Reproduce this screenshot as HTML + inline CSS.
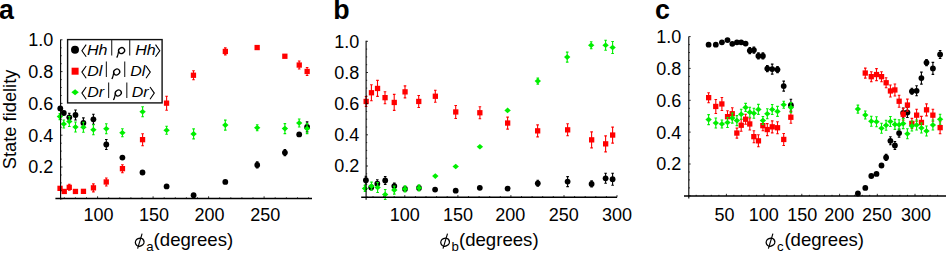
<!DOCTYPE html>
<html><head><meta charset="utf-8"><title>State fidelity</title>
<style>html,body{margin:0;padding:0;background:#fff;overflow:hidden}svg{display:block}</style>
</head><body>
<svg width="946" height="257" viewBox="0 0 946 257">
<rect width="946" height="257" fill="#fff"/>
<text x="-1.1" y="18.9" font-size="26.8" font-weight="bold" font-family="'Liberation Sans', sans-serif">a</text>
<text x="333.2" y="18.9" font-size="26.8" font-weight="bold" font-family="'Liberation Sans', sans-serif">b</text>
<text x="654.9" y="18.9" font-size="26.8" font-weight="bold" font-family="'Liberation Sans', sans-serif">c</text>
<circle cx="60.3" cy="108.4" r="2.9" fill="#000"/>
<circle cx="63.8" cy="113.0" r="2.9" fill="#000"/>
<path d="M69.3 113.3V121.3M68.0 113.3h2.6M68.0 121.3h2.6" stroke="#000" stroke-width="1.1" fill="none"/>
<circle cx="69.3" cy="117.3" r="2.9" fill="#000"/>
<path d="M75.5 110.0V120.0M74.2 110.0h2.6M74.2 120.0h2.6" stroke="#000" stroke-width="1.1" fill="none"/>
<circle cx="75.5" cy="115.0" r="2.9" fill="#000"/>
<path d="M83.4 117.9V127.9M82.1 117.9h2.6M82.1 127.9h2.6" stroke="#000" stroke-width="1.1" fill="none"/>
<circle cx="83.4" cy="122.9" r="2.9" fill="#000"/>
<path d="M93.4 114.3V124.3M92.1 114.3h2.6M92.1 124.3h2.6" stroke="#000" stroke-width="1.1" fill="none"/>
<circle cx="93.4" cy="119.3" r="2.9" fill="#000"/>
<path d="M106.3 139.5V149.5M105.0 139.5h2.6M105.0 149.5h2.6" stroke="#000" stroke-width="1.1" fill="none"/>
<circle cx="106.3" cy="144.5" r="2.9" fill="#000"/>
<circle cx="122.4" cy="157.6" r="2.9" fill="#000"/>
<circle cx="142.5" cy="172.5" r="2.9" fill="#000"/>
<circle cx="166.6" cy="186.4" r="2.9" fill="#000"/>
<circle cx="193.6" cy="195.2" r="2.9" fill="#000"/>
<circle cx="225.3" cy="181.9" r="2.9" fill="#000"/>
<path d="M257.2 161.9V167.9M255.9 161.9h2.6M255.9 167.9h2.6" stroke="#000" stroke-width="1.1" fill="none"/>
<circle cx="257.2" cy="164.9" r="2.9" fill="#000"/>
<path d="M284.9 149.6V155.6M283.6 149.6h2.6M283.6 155.6h2.6" stroke="#000" stroke-width="1.1" fill="none"/>
<circle cx="284.9" cy="152.6" r="2.9" fill="#000"/>
<circle cx="299.2" cy="134.4" r="2.9" fill="#000"/>
<path d="M307.1 121.9V131.9M305.8 121.9h2.6M305.8 131.9h2.6" stroke="#000" stroke-width="1.1" fill="none"/>
<circle cx="307.1" cy="126.9" r="2.9" fill="#000"/>
<rect x="57.4" y="185.7" width="5.3" height="5.3" fill="#f00"/>
<rect x="61.6" y="188.8" width="5.3" height="5.3" fill="#f00"/>
<path d="M69.3 184.3V190.3M68.0 184.3h2.6M68.0 190.3h2.6" stroke="#f00" stroke-width="1.1" fill="none"/>
<rect x="66.6" y="184.7" width="5.3" height="5.3" fill="#f00"/>
<rect x="72.8" y="188.8" width="5.3" height="5.3" fill="#f00"/>
<rect x="80.8" y="188.7" width="5.3" height="5.3" fill="#f00"/>
<path d="M93.4 183.9V191.9M92.1 183.9h2.6M92.1 191.9h2.6" stroke="#f00" stroke-width="1.1" fill="none"/>
<rect x="90.8" y="185.2" width="5.3" height="5.3" fill="#f00"/>
<path d="M106.3 178.0V186.0M105.0 178.0h2.6M105.0 186.0h2.6" stroke="#f00" stroke-width="1.1" fill="none"/>
<rect x="103.6" y="179.3" width="5.3" height="5.3" fill="#f00"/>
<path d="M122.4 164.7V172.7M121.1 164.7h2.6M121.1 172.7h2.6" stroke="#f00" stroke-width="1.1" fill="none"/>
<rect x="119.8" y="166.0" width="5.3" height="5.3" fill="#f00"/>
<path d="M142.6 133.7V145.7M141.3 133.7h2.6M141.3 145.7h2.6" stroke="#f00" stroke-width="1.1" fill="none"/>
<rect x="139.9" y="137.0" width="5.3" height="5.3" fill="#f00"/>
<path d="M166.6 96.2V110.2M165.3 96.2h2.6M165.3 110.2h2.6" stroke="#f00" stroke-width="1.1" fill="none"/>
<rect x="163.9" y="100.5" width="5.3" height="5.3" fill="#f00"/>
<path d="M193.5 70.8V79.8M192.2 70.8h2.6M192.2 79.8h2.6" stroke="#f00" stroke-width="1.1" fill="none"/>
<rect x="190.8" y="72.6" width="5.3" height="5.3" fill="#f00"/>
<path d="M225.3 47.9V54.9M224.0 47.9h2.6M224.0 54.9h2.6" stroke="#f00" stroke-width="1.1" fill="none"/>
<rect x="222.7" y="48.8" width="5.3" height="5.3" fill="#f00"/>
<rect x="254.5" y="44.9" width="5.3" height="5.3" fill="#f00"/>
<rect x="282.2" y="53.6" width="5.3" height="5.3" fill="#f00"/>
<path d="M299.2 61.0V69.0M297.9 61.0h2.6M297.9 69.0h2.6" stroke="#f00" stroke-width="1.1" fill="none"/>
<rect x="296.6" y="62.4" width="5.3" height="5.3" fill="#f00"/>
<path d="M307.1 67.5V75.5M305.8 67.5h2.6M305.8 75.5h2.6" stroke="#f00" stroke-width="1.1" fill="none"/>
<rect x="304.5" y="68.8" width="5.3" height="5.3" fill="#f00"/>
<path d="M59.9 113.6V119.6M58.6 113.6h2.6M58.6 119.6h2.6" stroke="#00ee00" stroke-width="1.1" fill="none"/>
<path d="M59.9 113.8L63.1 116.6L59.9 119.4L56.7 116.6Z" fill="#00ee00"/>
<path d="M63.8 120.0V128.0M62.5 120.0h2.6M62.5 128.0h2.6" stroke="#00ee00" stroke-width="1.1" fill="none"/>
<path d="M63.8 121.2L67.0 124.0L63.8 126.8L60.6 124.0Z" fill="#00ee00"/>
<path d="M69.3 116.5V126.5M68.0 116.5h2.6M68.0 126.5h2.6" stroke="#00ee00" stroke-width="1.1" fill="none"/>
<path d="M69.3 118.7L72.5 121.5L69.3 124.3L66.1 121.5Z" fill="#00ee00"/>
<path d="M75.5 122.0V132.0M74.2 122.0h2.6M74.2 132.0h2.6" stroke="#00ee00" stroke-width="1.1" fill="none"/>
<path d="M75.5 124.2L78.7 127.0L75.5 129.8L72.3 127.0Z" fill="#00ee00"/>
<path d="M83.4 122.3V132.3M82.1 122.3h2.6M82.1 132.3h2.6" stroke="#00ee00" stroke-width="1.1" fill="none"/>
<path d="M83.4 124.5L86.6 127.3L83.4 130.1L80.2 127.3Z" fill="#00ee00"/>
<path d="M93.4 124.7V134.7M92.1 124.7h2.6M92.1 134.7h2.6" stroke="#00ee00" stroke-width="1.1" fill="none"/>
<path d="M93.4 126.9L96.6 129.7L93.4 132.5L90.2 129.7Z" fill="#00ee00"/>
<path d="M106.3 123.8V133.8M105.0 123.8h2.6M105.0 133.8h2.6" stroke="#00ee00" stroke-width="1.1" fill="none"/>
<path d="M106.3 126.0L109.5 128.8L106.3 131.6L103.1 128.8Z" fill="#00ee00"/>
<path d="M122.4 128.8V136.8M121.1 128.8h2.6M121.1 136.8h2.6" stroke="#00ee00" stroke-width="1.1" fill="none"/>
<path d="M122.4 130.0L125.6 132.8L122.4 135.6L119.2 132.8Z" fill="#00ee00"/>
<path d="M142.6 106.7V116.7M141.3 106.7h2.6M141.3 116.7h2.6" stroke="#00ee00" stroke-width="1.1" fill="none"/>
<path d="M142.6 108.9L145.8 111.7L142.6 114.5L139.4 111.7Z" fill="#00ee00"/>
<path d="M166.6 126.2V134.2M165.3 126.2h2.6M165.3 134.2h2.6" stroke="#00ee00" stroke-width="1.1" fill="none"/>
<path d="M166.6 127.4L169.8 130.2L166.6 133.0L163.4 130.2Z" fill="#00ee00"/>
<path d="M193.6 128.9V138.9M192.3 128.9h2.6M192.3 138.9h2.6" stroke="#00ee00" stroke-width="1.1" fill="none"/>
<path d="M193.6 131.1L196.8 133.9L193.6 136.7L190.4 133.9Z" fill="#00ee00"/>
<path d="M225.3 120.1V130.1M224.0 120.1h2.6M224.0 130.1h2.6" stroke="#00ee00" stroke-width="1.1" fill="none"/>
<path d="M225.3 122.3L228.5 125.1L225.3 127.9L222.1 125.1Z" fill="#00ee00"/>
<path d="M257.2 124.8V130.8M255.9 124.8h2.6M255.9 130.8h2.6" stroke="#00ee00" stroke-width="1.1" fill="none"/>
<path d="M257.2 125.0L260.4 127.8L257.2 130.6L254.0 127.8Z" fill="#00ee00"/>
<path d="M284.9 123.6V133.6M283.6 123.6h2.6M283.6 133.6h2.6" stroke="#00ee00" stroke-width="1.1" fill="none"/>
<path d="M284.9 125.8L288.1 128.6L284.9 131.4L281.7 128.6Z" fill="#00ee00"/>
<path d="M299.2 119.0V127.0M297.9 119.0h2.6M297.9 127.0h2.6" stroke="#00ee00" stroke-width="1.1" fill="none"/>
<path d="M299.2 120.2L302.4 123.0L299.2 125.8L296.0 123.0Z" fill="#00ee00"/>
<path d="M307.1 123.6V133.6M305.8 123.6h2.6M305.8 133.6h2.6" stroke="#00ee00" stroke-width="1.1" fill="none"/>
<path d="M307.1 125.8L310.3 128.6L307.1 131.4L303.9 128.6Z" fill="#00ee00"/>
<path d="M60.6 39.5V199.6" stroke="#000" stroke-width="1.1" fill="none"/>
<path d="M55.4 198.5H312" stroke="#000" stroke-width="1.5" fill="none"/>
<path d="M60.6 198.8h1.9M60.6 190.9h1.1M60.6 182.9h1.1M60.6 175.0h1.1M60.6 167.0h1.9M60.6 159.1h1.1M60.6 151.1h1.1M60.6 143.2h1.1M60.6 135.2h1.9M60.6 127.3h1.1M60.6 119.3h1.1M60.6 111.4h1.1M60.6 103.4h1.9M60.6 95.5h1.1M60.6 87.5h1.1M60.6 79.6h1.1M60.6 71.6h1.9M60.6 63.7h1.1M60.6 55.7h1.1M60.6 47.8h1.1M60.6 39.8h1.9" stroke="#000" stroke-width="0.8" fill="none"/>
<path d="M97.6 198.5v-2.2M153.1 198.5v-2.2M208.6 198.5v-2.2M264.1 198.5v-2.2M64.3 198.5v-1.2M75.4 198.5v-1.2M86.5 198.5v-1.2M108.7 198.5v-1.2M119.8 198.5v-1.2M130.9 198.5v-1.2M142.0 198.5v-1.2M164.2 198.5v-1.2M175.3 198.5v-1.2M186.4 198.5v-1.2M197.5 198.5v-1.2M219.7 198.5v-1.2M230.8 198.5v-1.2M241.9 198.5v-1.2M253.0 198.5v-1.2M275.2 198.5v-1.2M286.4 198.5v-1.2M297.5 198.5v-1.2M308.6 198.5v-1.2" stroke="#000" stroke-width="0.8" fill="none"/>
<text x="53.2" y="46.2" font-size="18" text-anchor="end" font-family="'Liberation Sans', sans-serif">1.0</text>
<text x="53.2" y="78.0" font-size="18" text-anchor="end" font-family="'Liberation Sans', sans-serif">0.8</text>
<text x="53.2" y="109.8" font-size="18" text-anchor="end" font-family="'Liberation Sans', sans-serif">0.6</text>
<text x="53.2" y="141.6" font-size="18" text-anchor="end" font-family="'Liberation Sans', sans-serif">0.4</text>
<text x="53.2" y="173.4" font-size="18" text-anchor="end" font-family="'Liberation Sans', sans-serif">0.2</text>
<text x="98.6" y="221.2" font-size="18" text-anchor="middle" font-family="'Liberation Sans', sans-serif">100</text>
<text x="154.1" y="221.2" font-size="18" text-anchor="middle" font-family="'Liberation Sans', sans-serif">150</text>
<text x="209.6" y="221.2" font-size="18" text-anchor="middle" font-family="'Liberation Sans', sans-serif">200</text>
<text x="265.2" y="221.2" font-size="18" text-anchor="middle" font-family="'Liberation Sans', sans-serif">250</text>
<ellipse cx="139.7" cy="242.2" rx="4.4" ry="3.9" transform="rotate(-25 139.7 242.2)" fill="none" stroke="#000" stroke-width="1.35"/>
<path d="M142.1 233.6L137.6 248.6" stroke="#000" stroke-width="1.15" fill="none"/>
<text x="146.2" y="250.6" font-size="13.2" font-family="'Liberation Sans', sans-serif">a</text>
<text x="153.6" y="246.2" font-size="18.6" font-family="'Liberation Sans', sans-serif">(degrees)</text>
<text transform="translate(15.6 119.4) rotate(-90)" font-size="18.3" text-anchor="middle" font-family="'Liberation Sans', sans-serif">State fidelity</text>
<rect x="67.6" y="39.6" width="94.5" height="63.3" fill="#fff" stroke="#111" stroke-width="1.4"/>
<circle cx="75.0" cy="49.8" r="4" fill="#000"/>
<path d="M86.2 44.6L81.9 50.7L86.2 56.8" stroke="#000" stroke-width="1.1" fill="none"/>
<path d="M155.5 44.6L159.8 50.7L155.5 56.8" stroke="#000" stroke-width="1.1" fill="none"/>
<path d="M111.7 40.0V55.6M129.7 40.0V55.6" stroke="#333" stroke-width="1.2" fill="none"/>
<text x="86.9" y="54.9" font-size="15" font-style="italic" textLength="20.5" lengthAdjust="spacingAndGlyphs" font-family="'Liberation Sans', sans-serif">Hh</text>
<text x="135.2" y="54.9" font-size="15" font-style="italic" textLength="20.5" lengthAdjust="spacingAndGlyphs" font-family="'Liberation Sans', sans-serif">Hh</text>
<ellipse cx="121.6" cy="50.6" rx="3.1" ry="2.8" transform="rotate(-35 121.6 50.6)" fill="none" stroke="#000" stroke-width="1.3"/>
<path d="M118.7 50.9C118.2 54.1 117.6 56.4 116.7 57.6" fill="none" stroke="#000" stroke-width="1.2"/>
<rect x="71.6" y="67.7" width="7" height="7" fill="#f00"/>
<path d="M86.2 66.0L81.9 72.1L86.2 78.2" stroke="#000" stroke-width="1.1" fill="none"/>
<path d="M146.0 66.0L150.3 72.1L146.0 78.2" stroke="#000" stroke-width="1.1" fill="none"/>
<path d="M106.4 61.4V77.0M124.7 61.4V77.0" stroke="#333" stroke-width="1.2" fill="none"/>
<text x="87.2" y="76.3" font-size="15" font-style="italic" textLength="15.1" lengthAdjust="spacingAndGlyphs" font-family="'Liberation Sans', sans-serif">Dl</text>
<text x="130.2" y="76.3" font-size="15" font-style="italic" textLength="15.1" lengthAdjust="spacingAndGlyphs" font-family="'Liberation Sans', sans-serif">Dl</text>
<ellipse cx="116.7" cy="72.0" rx="3.1" ry="2.8" transform="rotate(-35 116.7 72.0)" fill="none" stroke="#000" stroke-width="1.3"/>
<path d="M113.8 72.3C113.3 75.5 112.7 77.8 111.8 79.0" fill="none" stroke="#000" stroke-width="1.2"/>
<path d="M75.1 89.2L78.8 92.2L75.1 95.2L71.4 92.2Z" fill="#00ee00"/>
<path d="M86.2 87.0L81.9 93.1L86.2 99.2" stroke="#000" stroke-width="1.1" fill="none"/>
<path d="M150.0 87.0L154.3 93.1L150.0 99.2" stroke="#000" stroke-width="1.1" fill="none"/>
<path d="M108.6 82.4V98.0M126.8 82.4V98.0" stroke="#333" stroke-width="1.2" fill="none"/>
<text x="87.2" y="97.3" font-size="15" font-style="italic" textLength="16.9" lengthAdjust="spacingAndGlyphs" font-family="'Liberation Sans', sans-serif">Dr</text>
<text x="131.7" y="97.3" font-size="15" font-style="italic" textLength="16.9" lengthAdjust="spacingAndGlyphs" font-family="'Liberation Sans', sans-serif">Dr</text>
<ellipse cx="118.3" cy="93.0" rx="3.1" ry="2.8" transform="rotate(-35 118.3 93.0)" fill="none" stroke="#000" stroke-width="1.3"/>
<path d="M115.4 93.3C114.9 96.5 114.3 98.8 113.4 100.0" fill="none" stroke="#000" stroke-width="1.2"/>
<path d="M365.9 176.2V184.2M364.6 176.2h2.6M364.6 184.2h2.6" stroke="#000" stroke-width="1.1" fill="none"/>
<circle cx="365.9" cy="180.2" r="2.9" fill="#000"/>
<circle cx="371.2" cy="187.5" r="2.9" fill="#000"/>
<path d="M377.3 179.7V187.7M376.0 179.7h2.6M376.0 187.7h2.6" stroke="#000" stroke-width="1.1" fill="none"/>
<circle cx="377.3" cy="183.7" r="2.9" fill="#000"/>
<path d="M385.2 176.5V184.5M383.9 176.5h2.6M383.9 184.5h2.6" stroke="#000" stroke-width="1.1" fill="none"/>
<circle cx="385.2" cy="180.5" r="2.9" fill="#000"/>
<path d="M394.3 183.1V189.1M393.0 183.1h2.6M393.0 189.1h2.6" stroke="#000" stroke-width="1.1" fill="none"/>
<circle cx="394.3" cy="186.1" r="2.9" fill="#000"/>
<circle cx="405.0" cy="188.9" r="2.9" fill="#000"/>
<circle cx="419.0" cy="188.0" r="2.9" fill="#000"/>
<circle cx="435.1" cy="189.6" r="2.9" fill="#000"/>
<circle cx="455.7" cy="190.7" r="2.9" fill="#000"/>
<circle cx="479.8" cy="187.8" r="2.9" fill="#000"/>
<circle cx="507.6" cy="188.6" r="2.9" fill="#000"/>
<path d="M537.8 180.3V186.3M536.5 180.3h2.6M536.5 186.3h2.6" stroke="#000" stroke-width="1.1" fill="none"/>
<circle cx="537.8" cy="183.3" r="2.9" fill="#000"/>
<path d="M567.6 176.6V186.6M566.3 176.6h2.6M566.3 186.6h2.6" stroke="#000" stroke-width="1.1" fill="none"/>
<circle cx="567.6" cy="181.6" r="2.9" fill="#000"/>
<path d="M591.6 180.9V186.9M590.3 180.9h2.6M590.3 186.9h2.6" stroke="#000" stroke-width="1.1" fill="none"/>
<circle cx="591.6" cy="183.9" r="2.9" fill="#000"/>
<path d="M605.6 173.3V183.3M604.3 173.3h2.6M604.3 183.3h2.6" stroke="#000" stroke-width="1.1" fill="none"/>
<circle cx="605.6" cy="178.3" r="2.9" fill="#000"/>
<path d="M612.6 173.2V185.2M611.3 173.2h2.6M611.3 185.2h2.6" stroke="#000" stroke-width="1.1" fill="none"/>
<circle cx="612.6" cy="179.2" r="2.9" fill="#000"/>
<path d="M366.1 96.5V106.5M364.8 96.5h2.6M364.8 106.5h2.6" stroke="#f00" stroke-width="1.1" fill="none"/>
<rect x="363.5" y="98.8" width="5.3" height="5.3" fill="#f00"/>
<path d="M371.4 84.8V100.8M370.1 84.8h2.6M370.1 100.8h2.6" stroke="#f00" stroke-width="1.1" fill="none"/>
<rect x="368.8" y="90.1" width="5.3" height="5.3" fill="#f00"/>
<path d="M377.5 80.4V96.4M376.2 80.4h2.6M376.2 96.4h2.6" stroke="#f00" stroke-width="1.1" fill="none"/>
<rect x="374.9" y="85.8" width="5.3" height="5.3" fill="#f00"/>
<path d="M385.0 91.7V103.7M383.7 91.7h2.6M383.7 103.7h2.6" stroke="#f00" stroke-width="1.1" fill="none"/>
<rect x="382.4" y="95.0" width="5.3" height="5.3" fill="#f00"/>
<path d="M394.2 94.4V110.4M392.9 94.4h2.6M392.9 110.4h2.6" stroke="#f00" stroke-width="1.1" fill="none"/>
<rect x="391.6" y="99.8" width="5.3" height="5.3" fill="#f00"/>
<path d="M405.0 85.9V97.9M403.7 85.9h2.6M403.7 97.9h2.6" stroke="#f00" stroke-width="1.1" fill="none"/>
<rect x="402.4" y="89.2" width="5.3" height="5.3" fill="#f00"/>
<path d="M418.7 95.5V107.5M417.4 95.5h2.6M417.4 107.5h2.6" stroke="#f00" stroke-width="1.1" fill="none"/>
<rect x="416.1" y="98.8" width="5.3" height="5.3" fill="#f00"/>
<path d="M435.3 90.3V102.3M434.0 90.3h2.6M434.0 102.3h2.6" stroke="#f00" stroke-width="1.1" fill="none"/>
<rect x="432.7" y="93.6" width="5.3" height="5.3" fill="#f00"/>
<path d="M455.7 105.5V118.5M454.4 105.5h2.6M454.4 118.5h2.6" stroke="#f00" stroke-width="1.1" fill="none"/>
<rect x="453.1" y="109.3" width="5.3" height="5.3" fill="#f00"/>
<path d="M479.9 106.8V118.8M478.6 106.8h2.6M478.6 118.8h2.6" stroke="#f00" stroke-width="1.1" fill="none"/>
<rect x="477.2" y="110.1" width="5.3" height="5.3" fill="#f00"/>
<path d="M507.6 117.1V129.1M506.3 117.1h2.6M506.3 129.1h2.6" stroke="#f00" stroke-width="1.1" fill="none"/>
<rect x="505.0" y="120.4" width="5.3" height="5.3" fill="#f00"/>
<path d="M537.6 124.9V136.9M536.3 124.9h2.6M536.3 136.9h2.6" stroke="#f00" stroke-width="1.1" fill="none"/>
<rect x="535.0" y="128.2" width="5.3" height="5.3" fill="#f00"/>
<path d="M567.6 123.8V135.8M566.3 123.8h2.6M566.3 135.8h2.6" stroke="#f00" stroke-width="1.1" fill="none"/>
<rect x="565.0" y="127.2" width="5.3" height="5.3" fill="#f00"/>
<path d="M591.6 131.9V147.9M590.3 131.9h2.6M590.3 147.9h2.6" stroke="#f00" stroke-width="1.1" fill="none"/>
<rect x="589.0" y="137.2" width="5.3" height="5.3" fill="#f00"/>
<path d="M605.6 135.9V151.9M604.3 135.9h2.6M604.3 151.9h2.6" stroke="#f00" stroke-width="1.1" fill="none"/>
<rect x="603.0" y="141.2" width="5.3" height="5.3" fill="#f00"/>
<path d="M612.6 127.1V143.1M611.3 127.1h2.6M611.3 143.1h2.6" stroke="#f00" stroke-width="1.1" fill="none"/>
<rect x="610.0" y="132.4" width="5.3" height="5.3" fill="#f00"/>
<path d="M365.0 185.4V191.4M363.7 185.4h2.6M363.7 191.4h2.6" stroke="#00ee00" stroke-width="1.1" fill="none"/>
<path d="M365.0 185.6L368.2 188.4L365.0 191.2L361.8 188.4Z" fill="#00ee00"/>
<path d="M371.5 182.1V190.1M370.2 182.1h2.6M370.2 190.1h2.6" stroke="#00ee00" stroke-width="1.1" fill="none"/>
<path d="M371.5 183.3L374.7 186.1L371.5 188.9L368.3 186.1Z" fill="#00ee00"/>
<path d="M377.6 182.5V192.5M376.3 182.5h2.6M376.3 192.5h2.6" stroke="#00ee00" stroke-width="1.1" fill="none"/>
<path d="M377.6 184.7L380.8 187.5L377.6 190.3L374.4 187.5Z" fill="#00ee00"/>
<path d="M385.2 189.5V199.5M383.9 189.5h2.6M383.9 199.5h2.6" stroke="#00ee00" stroke-width="1.1" fill="none"/>
<path d="M385.2 191.7L388.4 194.5L385.2 197.3L382.0 194.5Z" fill="#00ee00"/>
<path d="M394.3 186.1V194.1M393.0 186.1h2.6M393.0 194.1h2.6" stroke="#00ee00" stroke-width="1.1" fill="none"/>
<path d="M394.3 187.3L397.5 190.1L394.3 192.9L391.1 190.1Z" fill="#00ee00"/>
<path d="M405.0 185.9V191.9M403.7 185.9h2.6M403.7 191.9h2.6" stroke="#00ee00" stroke-width="1.1" fill="none"/>
<path d="M405.0 186.1L408.2 188.9L405.0 191.7L401.8 188.9Z" fill="#00ee00"/>
<path d="M419.0 184.9V190.9M417.7 184.9h2.6M417.7 190.9h2.6" stroke="#00ee00" stroke-width="1.1" fill="none"/>
<path d="M419.0 185.1L422.2 187.9L419.0 190.7L415.8 187.9Z" fill="#00ee00"/>
<path d="M435.3 173.3L438.5 176.1L435.3 178.9L432.1 176.1Z" fill="#00ee00"/>
<path d="M455.7 163.7L458.9 166.5L455.7 169.3L452.5 166.5Z" fill="#00ee00"/>
<path d="M479.9 143.9L483.1 146.7L479.9 149.5L476.7 146.7Z" fill="#00ee00"/>
<path d="M507.6 107.6L510.8 110.4L507.6 113.2L504.4 110.4Z" fill="#00ee00"/>
<path d="M537.8 78.1V84.1M536.5 78.1h2.6M536.5 84.1h2.6" stroke="#00ee00" stroke-width="1.1" fill="none"/>
<path d="M537.8 78.3L541.0 81.1L537.8 83.9L534.6 81.1Z" fill="#00ee00"/>
<path d="M567.2 52.1V62.1M565.9 52.1h2.6M565.9 62.1h2.6" stroke="#00ee00" stroke-width="1.1" fill="none"/>
<path d="M567.2 54.3L570.4 57.1L567.2 59.9L564.0 57.1Z" fill="#00ee00"/>
<path d="M591.2 41.7V48.7M589.9 41.7h2.6M589.9 48.7h2.6" stroke="#00ee00" stroke-width="1.1" fill="none"/>
<path d="M591.2 42.4L594.4 45.2L591.2 48.0L588.0 45.2Z" fill="#00ee00"/>
<path d="M605.6 40.2V50.2M604.3 40.2h2.6M604.3 50.2h2.6" stroke="#00ee00" stroke-width="1.1" fill="none"/>
<path d="M605.6 42.4L608.8 45.2L605.6 48.0L602.4 45.2Z" fill="#00ee00"/>
<path d="M612.6 41.5V53.5M611.3 41.5h2.6M611.3 53.5h2.6" stroke="#00ee00" stroke-width="1.1" fill="none"/>
<path d="M612.6 44.7L615.8 47.5L612.6 50.3L609.4 47.5Z" fill="#00ee00"/>
<path d="M366.1 40.7V199.8" stroke="#000" stroke-width="1.1" fill="none"/>
<path d="M361.2 197.3H617" stroke="#000" stroke-width="1.5" fill="none"/>
<path d="M366.1 197.2h1.9M366.1 189.4h1.1M366.1 181.6h1.1M366.1 173.8h1.1M366.1 166.0h1.9M366.1 158.2h1.1M366.1 150.4h1.1M366.1 142.6h1.1M366.1 134.8h1.9M366.1 127.0h1.1M366.1 119.2h1.1M366.1 111.5h1.1M366.1 103.7h1.9M366.1 95.9h1.1M366.1 88.1h1.1M366.1 80.3h1.1M366.1 72.5h1.9M366.1 64.7h1.1M366.1 56.9h1.1M366.1 49.1h1.1M366.1 41.3h1.9" stroke="#000" stroke-width="0.8" fill="none"/>
<path d="M404.8 197.3v-2.2M457.9 197.3v-2.2M510.9 197.3v-2.2M564.0 197.3v-2.2M617.0 197.3v-2.2M373.0 197.3v-1.2M383.6 197.3v-1.2M394.2 197.3v-1.2M415.4 197.3v-1.2M426.0 197.3v-1.2M436.6 197.3v-1.2M447.2 197.3v-1.2M468.5 197.3v-1.2M479.1 197.3v-1.2M489.7 197.3v-1.2M500.3 197.3v-1.2M521.5 197.3v-1.2M532.1 197.3v-1.2M542.7 197.3v-1.2M553.3 197.3v-1.2M574.6 197.3v-1.2M585.2 197.3v-1.2M595.8 197.3v-1.2M606.4 197.3v-1.2" stroke="#000" stroke-width="0.8" fill="none"/>
<text x="359.3" y="47.7" font-size="18" text-anchor="end" font-family="'Liberation Sans', sans-serif">1.0</text>
<text x="359.3" y="78.9" font-size="18" text-anchor="end" font-family="'Liberation Sans', sans-serif">0.8</text>
<text x="359.3" y="110.1" font-size="18" text-anchor="end" font-family="'Liberation Sans', sans-serif">0.6</text>
<text x="359.3" y="141.2" font-size="18" text-anchor="end" font-family="'Liberation Sans', sans-serif">0.4</text>
<text x="359.3" y="172.4" font-size="18" text-anchor="end" font-family="'Liberation Sans', sans-serif">0.2</text>
<text x="404.8" y="221.2" font-size="18" text-anchor="middle" font-family="'Liberation Sans', sans-serif">100</text>
<text x="457.9" y="221.2" font-size="18" text-anchor="middle" font-family="'Liberation Sans', sans-serif">150</text>
<text x="510.2" y="221.2" font-size="18" text-anchor="middle" font-family="'Liberation Sans', sans-serif">200</text>
<text x="563.7" y="221.2" font-size="18" text-anchor="middle" font-family="'Liberation Sans', sans-serif">250</text>
<text x="617.0" y="221.2" font-size="18" text-anchor="middle" font-family="'Liberation Sans', sans-serif">300</text>
<ellipse cx="445.1" cy="242.2" rx="4.4" ry="3.9" transform="rotate(-25 445.1 242.2)" fill="none" stroke="#000" stroke-width="1.35"/>
<path d="M447.5 233.6L443.0 248.6" stroke="#000" stroke-width="1.15" fill="none"/>
<text x="451.6" y="250.6" font-size="13.2" font-family="'Liberation Sans', sans-serif">b</text>
<text x="459.0" y="246.2" font-size="18.6" font-family="'Liberation Sans', sans-serif">(degrees)</text>
<circle cx="708.6" cy="44.7" r="2.9" fill="#000"/>
<circle cx="715.8" cy="44.7" r="2.9" fill="#000"/>
<circle cx="721.9" cy="42.3" r="2.9" fill="#000"/>
<circle cx="727.5" cy="40.1" r="2.9" fill="#000"/>
<circle cx="732.3" cy="43.8" r="2.9" fill="#000"/>
<circle cx="736.9" cy="42.3" r="2.9" fill="#000"/>
<circle cx="741.2" cy="42.3" r="2.9" fill="#000"/>
<circle cx="745.6" cy="43.6" r="2.9" fill="#000"/>
<path d="M749.8 47.6V53.6M748.5 47.6h2.6M748.5 53.6h2.6" stroke="#000" stroke-width="1.1" fill="none"/>
<circle cx="749.8" cy="50.6" r="2.9" fill="#000"/>
<path d="M753.9 47.1V53.1M752.6 47.1h2.6M752.6 53.1h2.6" stroke="#000" stroke-width="1.1" fill="none"/>
<circle cx="753.9" cy="50.1" r="2.9" fill="#000"/>
<path d="M758.4 52.9V58.9M757.1 52.9h2.6M757.1 58.9h2.6" stroke="#000" stroke-width="1.1" fill="none"/>
<circle cx="758.4" cy="55.9" r="2.9" fill="#000"/>
<path d="M762.9 52.9V58.9M761.6 52.9h2.6M761.6 58.9h2.6" stroke="#000" stroke-width="1.1" fill="none"/>
<circle cx="762.9" cy="55.9" r="2.9" fill="#000"/>
<path d="M767.3 65.6V71.6M766.0 65.6h2.6M766.0 71.6h2.6" stroke="#000" stroke-width="1.1" fill="none"/>
<circle cx="767.3" cy="68.6" r="2.9" fill="#000"/>
<path d="M772.2 64.1V74.1M770.9 64.1h2.6M770.9 74.1h2.6" stroke="#000" stroke-width="1.1" fill="none"/>
<circle cx="772.2" cy="69.1" r="2.9" fill="#000"/>
<path d="M777.5 66.6V72.6M776.2 66.6h2.6M776.2 72.6h2.6" stroke="#000" stroke-width="1.1" fill="none"/>
<circle cx="777.5" cy="69.6" r="2.9" fill="#000"/>
<path d="M783.7 81.1V91.1M782.4 81.1h2.6M782.4 91.1h2.6" stroke="#000" stroke-width="1.1" fill="none"/>
<circle cx="783.7" cy="86.1" r="2.9" fill="#000"/>
<path d="M790.9 99.2V111.2M789.6 99.2h2.6M789.6 111.2h2.6" stroke="#000" stroke-width="1.1" fill="none"/>
<circle cx="790.9" cy="105.2" r="2.9" fill="#000"/>
<circle cx="857.9" cy="193.5" r="2.9" fill="#000"/>
<circle cx="865.3" cy="187.9" r="2.9" fill="#000"/>
<circle cx="871.3" cy="176.0" r="2.9" fill="#000"/>
<circle cx="876.5" cy="173.9" r="2.9" fill="#000"/>
<circle cx="881.5" cy="165.5" r="2.9" fill="#000"/>
<path d="M886.1 154.4V160.4M884.8 154.4h2.6M884.8 160.4h2.6" stroke="#000" stroke-width="1.1" fill="none"/>
<circle cx="886.1" cy="157.4" r="2.9" fill="#000"/>
<path d="M890.4 136.8V144.8M889.1 136.8h2.6M889.1 144.8h2.6" stroke="#000" stroke-width="1.1" fill="none"/>
<circle cx="890.4" cy="140.8" r="2.9" fill="#000"/>
<path d="M894.9 141.5V149.5M893.6 141.5h2.6M893.6 149.5h2.6" stroke="#000" stroke-width="1.1" fill="none"/>
<circle cx="894.9" cy="145.5" r="2.9" fill="#000"/>
<path d="M899.1 129.1V137.1M897.8 129.1h2.6M897.8 137.1h2.6" stroke="#000" stroke-width="1.1" fill="none"/>
<circle cx="899.1" cy="133.1" r="2.9" fill="#000"/>
<path d="M903.2 108.0V118.0M901.9 108.0h2.6M901.9 118.0h2.6" stroke="#000" stroke-width="1.1" fill="none"/>
<circle cx="903.2" cy="113.0" r="2.9" fill="#000"/>
<path d="M907.4 107.5V117.5M906.1 107.5h2.6M906.1 117.5h2.6" stroke="#000" stroke-width="1.1" fill="none"/>
<circle cx="907.4" cy="112.5" r="2.9" fill="#000"/>
<path d="M911.9 88.3V94.3M910.6 88.3h2.6M910.6 94.3h2.6" stroke="#000" stroke-width="1.1" fill="none"/>
<circle cx="911.9" cy="91.3" r="2.9" fill="#000"/>
<path d="M916.6 85.8V95.8M915.3 85.8h2.6M915.3 95.8h2.6" stroke="#000" stroke-width="1.1" fill="none"/>
<circle cx="916.6" cy="90.8" r="2.9" fill="#000"/>
<path d="M921.4 72.1V84.1M920.1 72.1h2.6M920.1 84.1h2.6" stroke="#000" stroke-width="1.1" fill="none"/>
<circle cx="921.4" cy="78.1" r="2.9" fill="#000"/>
<path d="M926.5 59.6V65.6M925.2 59.6h2.6M925.2 65.6h2.6" stroke="#000" stroke-width="1.1" fill="none"/>
<circle cx="926.5" cy="62.6" r="2.9" fill="#000"/>
<path d="M932.9 62.4V74.4M931.6 62.4h2.6M931.6 74.4h2.6" stroke="#000" stroke-width="1.1" fill="none"/>
<circle cx="932.9" cy="68.4" r="2.9" fill="#000"/>
<path d="M940.1 50.5V58.5M938.8 50.5h2.6M938.8 58.5h2.6" stroke="#000" stroke-width="1.1" fill="none"/>
<circle cx="940.1" cy="54.5" r="2.9" fill="#000"/>
<path d="M708.6 92.7V102.7M707.3 92.7h2.6M707.3 102.7h2.6" stroke="#f00" stroke-width="1.1" fill="none"/>
<rect x="706.0" y="95.0" width="5.3" height="5.3" fill="#f00"/>
<path d="M715.8 99.5V113.5M714.5 99.5h2.6M714.5 113.5h2.6" stroke="#f00" stroke-width="1.1" fill="none"/>
<rect x="713.1" y="103.8" width="5.3" height="5.3" fill="#f00"/>
<path d="M721.9 97.5V110.5M720.6 97.5h2.6M720.6 110.5h2.6" stroke="#f00" stroke-width="1.1" fill="none"/>
<rect x="719.2" y="101.3" width="5.3" height="5.3" fill="#f00"/>
<path d="M727.5 110.7V122.7M726.2 110.7h2.6M726.2 122.7h2.6" stroke="#f00" stroke-width="1.1" fill="none"/>
<rect x="724.9" y="114.0" width="5.3" height="5.3" fill="#f00"/>
<path d="M732.3 107.8V119.8M731.0 107.8h2.6M731.0 119.8h2.6" stroke="#f00" stroke-width="1.1" fill="none"/>
<rect x="729.6" y="111.1" width="5.3" height="5.3" fill="#f00"/>
<path d="M736.9 128.1V138.1M735.6 128.1h2.6M735.6 138.1h2.6" stroke="#f00" stroke-width="1.1" fill="none"/>
<rect x="734.2" y="130.4" width="5.3" height="5.3" fill="#f00"/>
<path d="M741.2 119.3V131.3M739.9 119.3h2.6M739.9 131.3h2.6" stroke="#f00" stroke-width="1.1" fill="none"/>
<rect x="738.6" y="122.6" width="5.3" height="5.3" fill="#f00"/>
<path d="M745.6 114.3V124.3M744.3 114.3h2.6M744.3 124.3h2.6" stroke="#f00" stroke-width="1.1" fill="none"/>
<rect x="743.0" y="116.6" width="5.3" height="5.3" fill="#f00"/>
<path d="M749.8 118.0V130.0M748.5 118.0h2.6M748.5 130.0h2.6" stroke="#f00" stroke-width="1.1" fill="none"/>
<rect x="747.1" y="121.3" width="5.3" height="5.3" fill="#f00"/>
<path d="M753.9 130.7V142.7M752.6 130.7h2.6M752.6 142.7h2.6" stroke="#f00" stroke-width="1.1" fill="none"/>
<rect x="751.2" y="134.0" width="5.3" height="5.3" fill="#f00"/>
<path d="M758.4 134.8V146.8M757.1 134.8h2.6M757.1 146.8h2.6" stroke="#f00" stroke-width="1.1" fill="none"/>
<rect x="755.8" y="138.2" width="5.3" height="5.3" fill="#f00"/>
<path d="M762.9 120.7V130.7M761.6 120.7h2.6M761.6 130.7h2.6" stroke="#f00" stroke-width="1.1" fill="none"/>
<rect x="760.2" y="123.0" width="5.3" height="5.3" fill="#f00"/>
<path d="M767.3 123.6V135.6M766.0 123.6h2.6M766.0 135.6h2.6" stroke="#f00" stroke-width="1.1" fill="none"/>
<rect x="764.6" y="126.9" width="5.3" height="5.3" fill="#f00"/>
<path d="M772.2 120.9V132.9M770.9 120.9h2.6M770.9 132.9h2.6" stroke="#f00" stroke-width="1.1" fill="none"/>
<rect x="769.6" y="124.2" width="5.3" height="5.3" fill="#f00"/>
<path d="M777.5 121.8V133.8M776.2 121.8h2.6M776.2 133.8h2.6" stroke="#f00" stroke-width="1.1" fill="none"/>
<rect x="774.9" y="125.1" width="5.3" height="5.3" fill="#f00"/>
<path d="M783.7 133.5V145.5M782.4 133.5h2.6M782.4 145.5h2.6" stroke="#f00" stroke-width="1.1" fill="none"/>
<rect x="781.1" y="136.8" width="5.3" height="5.3" fill="#f00"/>
<path d="M790.9 111.3V123.3M789.6 111.3h2.6M789.6 123.3h2.6" stroke="#f00" stroke-width="1.1" fill="none"/>
<rect x="788.2" y="114.6" width="5.3" height="5.3" fill="#f00"/>
<path d="M865.3 68.1V78.1M864.0 68.1h2.6M864.0 78.1h2.6" stroke="#f00" stroke-width="1.1" fill="none"/>
<rect x="862.6" y="70.4" width="5.3" height="5.3" fill="#f00"/>
<path d="M871.3 71.7V81.7M870.0 71.7h2.6M870.0 81.7h2.6" stroke="#f00" stroke-width="1.1" fill="none"/>
<rect x="868.6" y="74.0" width="5.3" height="5.3" fill="#f00"/>
<path d="M876.5 68.6V80.6M875.2 68.6h2.6M875.2 80.6h2.6" stroke="#f00" stroke-width="1.1" fill="none"/>
<rect x="873.9" y="71.9" width="5.3" height="5.3" fill="#f00"/>
<path d="M881.5 71.7V81.7M880.2 71.7h2.6M880.2 81.7h2.6" stroke="#f00" stroke-width="1.1" fill="none"/>
<rect x="878.9" y="74.0" width="5.3" height="5.3" fill="#f00"/>
<path d="M886.1 77.8V87.8M884.8 77.8h2.6M884.8 87.8h2.6" stroke="#f00" stroke-width="1.1" fill="none"/>
<rect x="883.5" y="80.1" width="5.3" height="5.3" fill="#f00"/>
<path d="M890.4 85.0V97.0M889.1 85.0h2.6M889.1 97.0h2.6" stroke="#f00" stroke-width="1.1" fill="none"/>
<rect x="887.8" y="88.3" width="5.3" height="5.3" fill="#f00"/>
<path d="M894.9 84.0V96.0M893.6 84.0h2.6M893.6 96.0h2.6" stroke="#f00" stroke-width="1.1" fill="none"/>
<rect x="892.2" y="87.3" width="5.3" height="5.3" fill="#f00"/>
<path d="M899.1 95.3V107.3M897.8 95.3h2.6M897.8 107.3h2.6" stroke="#f00" stroke-width="1.1" fill="none"/>
<rect x="896.5" y="98.6" width="5.3" height="5.3" fill="#f00"/>
<path d="M903.2 108.3V120.3M901.9 108.3h2.6M901.9 120.3h2.6" stroke="#f00" stroke-width="1.1" fill="none"/>
<rect x="900.6" y="111.6" width="5.3" height="5.3" fill="#f00"/>
<path d="M907.4 99.1V111.1M906.1 99.1h2.6M906.1 111.1h2.6" stroke="#f00" stroke-width="1.1" fill="none"/>
<rect x="904.8" y="102.4" width="5.3" height="5.3" fill="#f00"/>
<path d="M911.9 118.4V128.4M910.6 118.4h2.6M910.6 128.4h2.6" stroke="#f00" stroke-width="1.1" fill="none"/>
<rect x="909.2" y="120.8" width="5.3" height="5.3" fill="#f00"/>
<path d="M916.6 109.2V121.2M915.3 109.2h2.6M915.3 121.2h2.6" stroke="#f00" stroke-width="1.1" fill="none"/>
<rect x="914.0" y="112.5" width="5.3" height="5.3" fill="#f00"/>
<path d="M921.4 116.4V128.4M920.1 116.4h2.6M920.1 128.4h2.6" stroke="#f00" stroke-width="1.1" fill="none"/>
<rect x="918.8" y="119.8" width="5.3" height="5.3" fill="#f00"/>
<path d="M926.5 103.9V115.9M925.2 103.9h2.6M925.2 115.9h2.6" stroke="#f00" stroke-width="1.1" fill="none"/>
<rect x="923.9" y="107.2" width="5.3" height="5.3" fill="#f00"/>
<path d="M932.9 109.2V121.2M931.6 109.2h2.6M931.6 121.2h2.6" stroke="#f00" stroke-width="1.1" fill="none"/>
<rect x="930.2" y="112.5" width="5.3" height="5.3" fill="#f00"/>
<path d="M940.1 121.7V133.7M938.8 121.7h2.6M938.8 133.7h2.6" stroke="#f00" stroke-width="1.1" fill="none"/>
<rect x="937.5" y="125.0" width="5.3" height="5.3" fill="#f00"/>
<path d="M708.6 114.6V124.6M707.3 114.6h2.6M707.3 124.6h2.6" stroke="#00ee00" stroke-width="1.1" fill="none"/>
<path d="M708.6 116.8L711.8 119.6L708.6 122.4L705.4 119.6Z" fill="#00ee00"/>
<path d="M715.8 118.0V128.0M714.5 118.0h2.6M714.5 128.0h2.6" stroke="#00ee00" stroke-width="1.1" fill="none"/>
<path d="M715.8 120.2L719.0 123.0L715.8 125.8L712.6 123.0Z" fill="#00ee00"/>
<path d="M721.9 120.0V128.0M720.6 120.0h2.6M720.6 128.0h2.6" stroke="#00ee00" stroke-width="1.1" fill="none"/>
<path d="M721.9 121.2L725.1 124.0L721.9 126.8L718.7 124.0Z" fill="#00ee00"/>
<path d="M727.5 117.5V127.5M726.2 117.5h2.6M726.2 127.5h2.6" stroke="#00ee00" stroke-width="1.1" fill="none"/>
<path d="M727.5 119.7L730.7 122.5L727.5 125.3L724.3 122.5Z" fill="#00ee00"/>
<path d="M732.3 113.1V123.1M731.0 113.1h2.6M731.0 123.1h2.6" stroke="#00ee00" stroke-width="1.1" fill="none"/>
<path d="M732.3 115.3L735.5 118.1L732.3 120.9L729.1 118.1Z" fill="#00ee00"/>
<path d="M736.9 115.6V125.6M735.6 115.6h2.6M735.6 125.6h2.6" stroke="#00ee00" stroke-width="1.1" fill="none"/>
<path d="M736.9 117.8L740.1 120.6L736.9 123.4L733.7 120.6Z" fill="#00ee00"/>
<path d="M741.2 109.2V119.2M739.9 109.2h2.6M739.9 119.2h2.6" stroke="#00ee00" stroke-width="1.1" fill="none"/>
<path d="M741.2 111.4L744.4 114.2L741.2 117.0L738.0 114.2Z" fill="#00ee00"/>
<path d="M745.6 103.4V111.4M744.3 103.4h2.6M744.3 111.4h2.6" stroke="#00ee00" stroke-width="1.1" fill="none"/>
<path d="M745.6 104.6L748.8 107.4L745.6 110.2L742.4 107.4Z" fill="#00ee00"/>
<path d="M749.8 107.3V117.3M748.5 107.3h2.6M748.5 117.3h2.6" stroke="#00ee00" stroke-width="1.1" fill="none"/>
<path d="M749.8 109.5L753.0 112.3L749.8 115.1L746.6 112.3Z" fill="#00ee00"/>
<path d="M753.9 108.3V118.3M752.6 108.3h2.6M752.6 118.3h2.6" stroke="#00ee00" stroke-width="1.1" fill="none"/>
<path d="M753.9 110.5L757.1 113.3L753.9 116.1L750.7 113.3Z" fill="#00ee00"/>
<path d="M758.4 104.4V114.4M757.1 104.4h2.6M757.1 114.4h2.6" stroke="#00ee00" stroke-width="1.1" fill="none"/>
<path d="M758.4 106.6L761.6 109.4L758.4 112.2L755.2 109.4Z" fill="#00ee00"/>
<path d="M762.9 116.5V124.5M761.6 116.5h2.6M761.6 124.5h2.6" stroke="#00ee00" stroke-width="1.1" fill="none"/>
<path d="M762.9 117.7L766.1 120.5L762.9 123.3L759.7 120.5Z" fill="#00ee00"/>
<path d="M767.3 108.7V118.7M766.0 108.7h2.6M766.0 118.7h2.6" stroke="#00ee00" stroke-width="1.1" fill="none"/>
<path d="M767.3 110.9L770.5 113.7L767.3 116.5L764.1 113.7Z" fill="#00ee00"/>
<path d="M772.2 104.5V114.5M770.9 104.5h2.6M770.9 114.5h2.6" stroke="#00ee00" stroke-width="1.1" fill="none"/>
<path d="M772.2 106.7L775.4 109.5L772.2 112.3L769.0 109.5Z" fill="#00ee00"/>
<path d="M777.5 106.4V116.4M776.2 106.4h2.6M776.2 116.4h2.6" stroke="#00ee00" stroke-width="1.1" fill="none"/>
<path d="M777.5 108.6L780.7 111.4L777.5 114.2L774.3 111.4Z" fill="#00ee00"/>
<path d="M783.7 101.2V108.2M782.4 101.2h2.6M782.4 108.2h2.6" stroke="#00ee00" stroke-width="1.1" fill="none"/>
<path d="M783.7 101.9L786.9 104.7L783.7 107.5L780.5 104.7Z" fill="#00ee00"/>
<path d="M790.9 102.6V112.6M789.6 102.6h2.6M789.6 112.6h2.6" stroke="#00ee00" stroke-width="1.1" fill="none"/>
<path d="M790.9 104.8L794.1 107.6L790.9 110.4L787.7 107.6Z" fill="#00ee00"/>
<path d="M857.9 105.1V113.1M856.6 105.1h2.6M856.6 113.1h2.6" stroke="#00ee00" stroke-width="1.1" fill="none"/>
<path d="M857.9 106.3L861.1 109.1L857.9 111.9L854.7 109.1Z" fill="#00ee00"/>
<path d="M865.3 111.0V119.0M864.0 111.0h2.6M864.0 119.0h2.6" stroke="#00ee00" stroke-width="1.1" fill="none"/>
<path d="M865.3 112.2L868.5 115.0L865.3 117.8L862.1 115.0Z" fill="#00ee00"/>
<path d="M871.3 116.2V126.2M870.0 116.2h2.6M870.0 126.2h2.6" stroke="#00ee00" stroke-width="1.1" fill="none"/>
<path d="M871.3 118.4L874.5 121.2L871.3 124.0L868.1 121.2Z" fill="#00ee00"/>
<path d="M876.5 116.8V126.8M875.2 116.8h2.6M875.2 126.8h2.6" stroke="#00ee00" stroke-width="1.1" fill="none"/>
<path d="M876.5 119.0L879.7 121.8L876.5 124.6L873.3 121.8Z" fill="#00ee00"/>
<path d="M881.5 123.2V133.2M880.2 123.2h2.6M880.2 133.2h2.6" stroke="#00ee00" stroke-width="1.1" fill="none"/>
<path d="M881.5 125.4L884.7 128.2L881.5 131.0L878.3 128.2Z" fill="#00ee00"/>
<path d="M886.1 120.3V130.3M884.8 120.3h2.6M884.8 130.3h2.6" stroke="#00ee00" stroke-width="1.1" fill="none"/>
<path d="M886.1 122.5L889.3 125.3L886.1 128.1L882.9 125.3Z" fill="#00ee00"/>
<path d="M890.4 116.5V126.5M889.1 116.5h2.6M889.1 126.5h2.6" stroke="#00ee00" stroke-width="1.1" fill="none"/>
<path d="M890.4 118.7L893.6 121.5L890.4 124.3L887.2 121.5Z" fill="#00ee00"/>
<path d="M894.9 119.4V129.4M893.6 119.4h2.6M893.6 129.4h2.6" stroke="#00ee00" stroke-width="1.1" fill="none"/>
<path d="M894.9 121.6L898.1 124.4L894.9 127.2L891.7 124.4Z" fill="#00ee00"/>
<path d="M899.1 119.7V129.7M897.8 119.7h2.6M897.8 129.7h2.6" stroke="#00ee00" stroke-width="1.1" fill="none"/>
<path d="M899.1 121.9L902.3 124.7L899.1 127.5L895.9 124.7Z" fill="#00ee00"/>
<path d="M903.2 118.6V128.6M901.9 118.6h2.6M901.9 128.6h2.6" stroke="#00ee00" stroke-width="1.1" fill="none"/>
<path d="M903.2 120.8L906.4 123.6L903.2 126.4L900.0 123.6Z" fill="#00ee00"/>
<path d="M907.4 128.8V138.8M906.1 128.8h2.6M906.1 138.8h2.6" stroke="#00ee00" stroke-width="1.1" fill="none"/>
<path d="M907.4 131.0L910.6 133.8L907.4 136.6L904.2 133.8Z" fill="#00ee00"/>
<path d="M911.9 121.0V131.0M910.6 121.0h2.6M910.6 131.0h2.6" stroke="#00ee00" stroke-width="1.1" fill="none"/>
<path d="M911.9 123.2L915.1 126.0L911.9 128.8L908.7 126.0Z" fill="#00ee00"/>
<path d="M916.6 120.0V130.0M915.3 120.0h2.6M915.3 130.0h2.6" stroke="#00ee00" stroke-width="1.1" fill="none"/>
<path d="M916.6 122.2L919.8 125.0L916.6 127.8L913.4 125.0Z" fill="#00ee00"/>
<path d="M921.4 123.0V133.0M920.1 123.0h2.6M920.1 133.0h2.6" stroke="#00ee00" stroke-width="1.1" fill="none"/>
<path d="M921.4 125.2L924.6 128.0L921.4 130.8L918.2 128.0Z" fill="#00ee00"/>
<path d="M926.5 126.0V136.0M925.2 126.0h2.6M925.2 136.0h2.6" stroke="#00ee00" stroke-width="1.1" fill="none"/>
<path d="M926.5 128.2L929.7 131.0L926.5 133.8L923.3 131.0Z" fill="#00ee00"/>
<path d="M932.9 120.0V130.0M931.6 120.0h2.6M931.6 130.0h2.6" stroke="#00ee00" stroke-width="1.1" fill="none"/>
<path d="M932.9 122.2L936.1 125.0L932.9 127.8L929.7 125.0Z" fill="#00ee00"/>
<path d="M940.1 114.2V124.2M938.8 114.2h2.6M938.8 124.2h2.6" stroke="#00ee00" stroke-width="1.1" fill="none"/>
<path d="M940.1 116.4L943.3 119.2L940.1 122.0L936.9 119.2Z" fill="#00ee00"/>
<path d="M688.8 36.5V198.4" stroke="#000" stroke-width="1.1" fill="none"/>
<path d="M684 196.0H946" stroke="#000" stroke-width="1.5" fill="none"/>
<path d="M688.8 195.8h1.9M688.8 187.9h1.1M688.8 179.9h1.1M688.8 172.0h1.1M688.8 164.0h1.9M688.8 156.0h1.1M688.8 148.1h1.1M688.8 140.1h1.1M688.8 132.1h1.9M688.8 124.2h1.1M688.8 116.2h1.1M688.8 108.3h1.1M688.8 100.3h1.9M688.8 92.3h1.1M688.8 84.4h1.1M688.8 76.4h1.1M688.8 68.4h1.9M688.8 60.5h1.1M688.8 52.5h1.1M688.8 44.6h1.1M688.8 36.6h1.9" stroke="#000" stroke-width="0.8" fill="none"/>
<path d="M726.4 196.0v-2.2M764.1 196.0v-2.2M801.8 196.0v-2.2M839.6 196.0v-2.2M877.3 196.0v-2.2M915.0 196.0v-2.2M696.2 196.0v-1.2M703.8 196.0v-1.2M711.3 196.0v-1.2M718.9 196.0v-1.2M733.9 196.0v-1.2M741.5 196.0v-1.2M749.0 196.0v-1.2M756.6 196.0v-1.2M771.7 196.0v-1.2M779.2 196.0v-1.2M786.8 196.0v-1.2M794.3 196.0v-1.2M809.4 196.0v-1.2M816.9 196.0v-1.2M824.5 196.0v-1.2M832.0 196.0v-1.2M847.1 196.0v-1.2M854.6 196.0v-1.2M862.2 196.0v-1.2M869.7 196.0v-1.2M884.8 196.0v-1.2M892.4 196.0v-1.2M899.9 196.0v-1.2M907.5 196.0v-1.2M922.5 196.0v-1.2M930.1 196.0v-1.2M937.6 196.0v-1.2" stroke="#000" stroke-width="0.8" fill="none"/>
<text x="681.3" y="43.0" font-size="18" text-anchor="end" font-family="'Liberation Sans', sans-serif">1.0</text>
<text x="681.3" y="74.8" font-size="18" text-anchor="end" font-family="'Liberation Sans', sans-serif">0.8</text>
<text x="681.3" y="106.7" font-size="18" text-anchor="end" font-family="'Liberation Sans', sans-serif">0.6</text>
<text x="681.3" y="138.5" font-size="18" text-anchor="end" font-family="'Liberation Sans', sans-serif">0.4</text>
<text x="681.3" y="170.4" font-size="18" text-anchor="end" font-family="'Liberation Sans', sans-serif">0.2</text>
<text x="724.6" y="221.2" font-size="18" text-anchor="middle" font-family="'Liberation Sans', sans-serif">50</text>
<text x="763.7" y="221.2" font-size="18" text-anchor="middle" font-family="'Liberation Sans', sans-serif">100</text>
<text x="802.2" y="221.2" font-size="18" text-anchor="middle" font-family="'Liberation Sans', sans-serif">150</text>
<text x="839.2" y="221.2" font-size="18" text-anchor="middle" font-family="'Liberation Sans', sans-serif">200</text>
<text x="877.1" y="221.2" font-size="18" text-anchor="middle" font-family="'Liberation Sans', sans-serif">250</text>
<text x="915.9" y="221.2" font-size="18" text-anchor="middle" font-family="'Liberation Sans', sans-serif">300</text>
<ellipse cx="770.5" cy="242.2" rx="4.4" ry="3.9" transform="rotate(-25 770.5 242.2)" fill="none" stroke="#000" stroke-width="1.35"/>
<path d="M772.9 233.6L768.4 248.6" stroke="#000" stroke-width="1.15" fill="none"/>
<text x="777.0" y="250.6" font-size="13.2" font-family="'Liberation Sans', sans-serif">c</text>
<text x="784.4" y="246.2" font-size="18.6" font-family="'Liberation Sans', sans-serif">(degrees)</text>
</svg>
</body></html>
